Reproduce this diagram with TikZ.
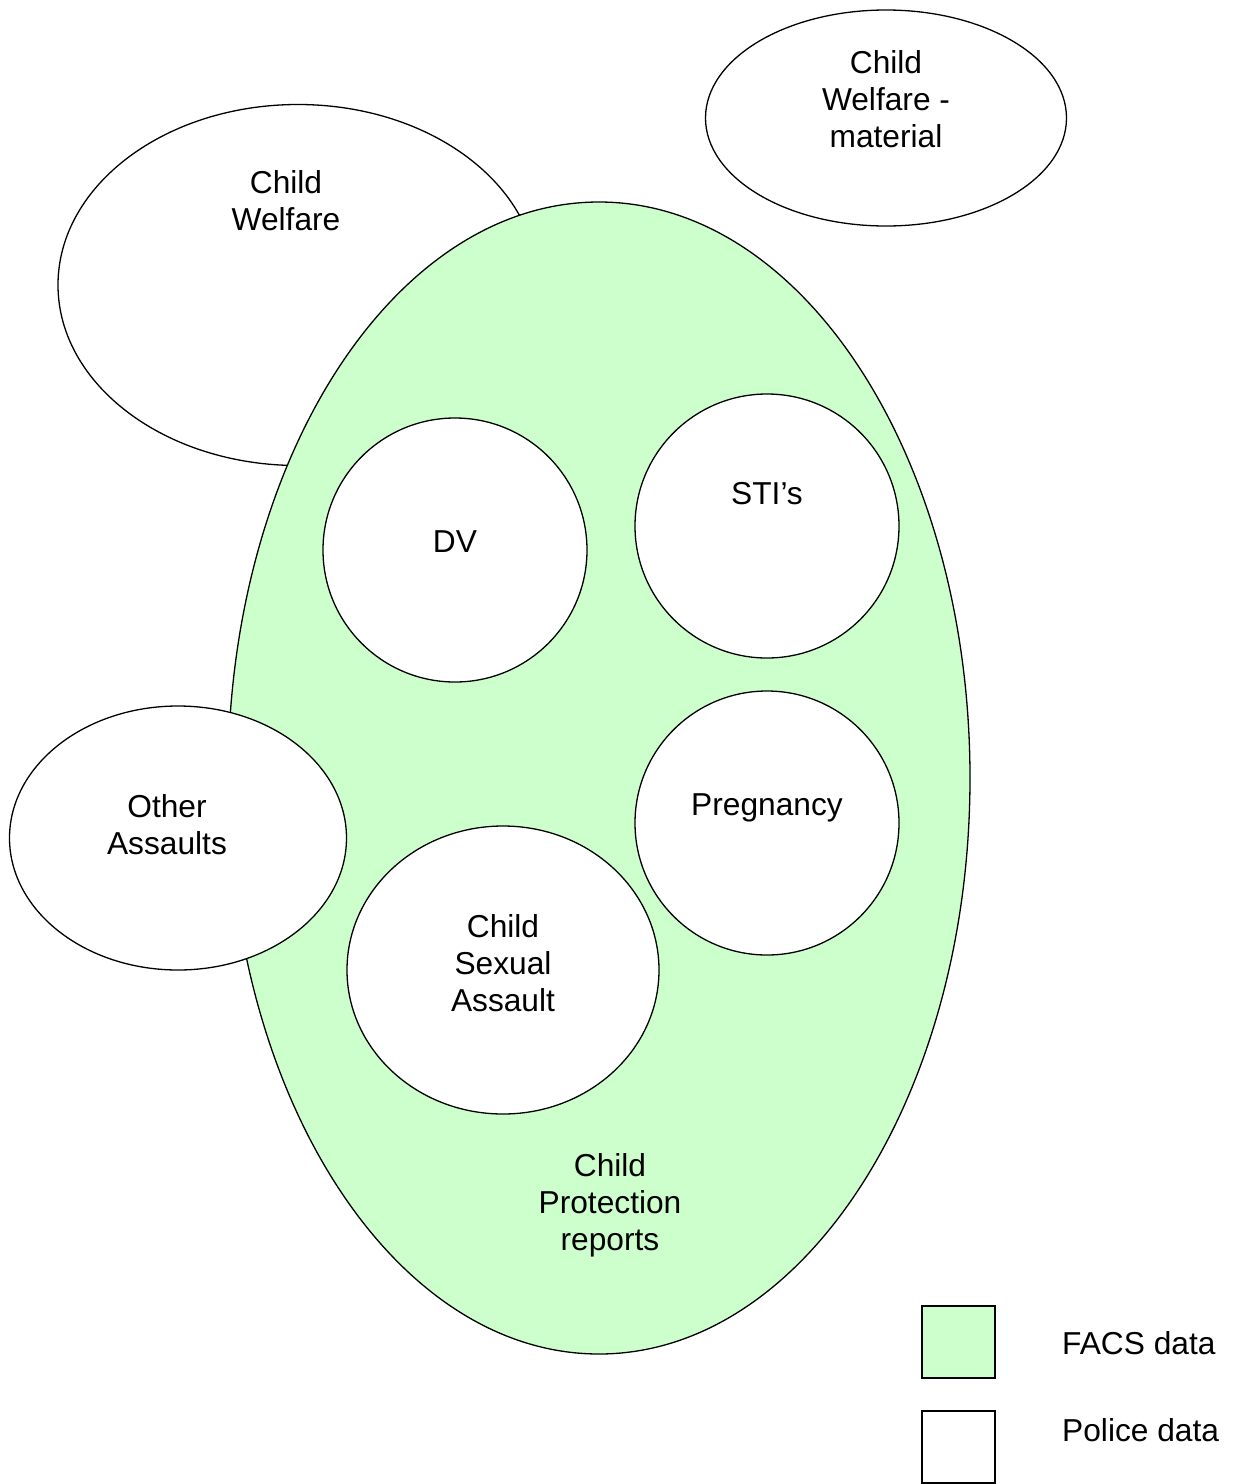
\documentclass[tikz,border=0pt]{standalone}
\usepackage{fontspec}
\setmainfont{Liberation Sans}
\usetikzlibrary{shapes.geometric}
\definecolor{facs}{HTML}{CCFFCC}
\begin{document}
\begin{tikzpicture}[x=1pt,y=-1pt,
  shp/.style={draw=black,line width=1.3pt,fill=white,ellipse,inner sep=0pt},
  txt/.style={align=center,font=\fontsize{31.7}{37}\selectfont,inner sep=0pt}]
\useasboundingbox (0,0) rectangle (1236,1484);
% Child Welfare (behind)
\node[shp,minimum width=480pt,minimum height=361pt] (cw) at (298,285) {};
% Child Welfare - material
\node[shp,minimum width=361pt,minimum height=216pt] (cwm) at (886,118) {};
% Child protection
\node[shp,fill=facs,minimum width=742pt,minimum height=1152pt] (cp) at (599,778) {};
% inner circles
\node[shp,minimum width=264pt,minimum height=264pt] (dv) at (455,550) {};
\node[shp,minimum width=264pt,minimum height=264pt] (sti) at (767,526) {};
\node[shp,minimum width=264pt,minimum height=264pt] (preg) at (767,823) {};
\node[shp,minimum width=312pt,minimum height=288pt] (csa) at (503,970) {};
\node[shp,minimum width=337pt,minimum height=264pt] (oa) at (178,838) {};
% legend
\node[draw=black,line width=1.3pt,fill=facs,minimum width=73pt,minimum height=72pt,inner sep=0pt] (lg1) at (958.5,1342) {};
\node[draw=black,line width=1.3pt,fill=white,minimum width=73pt,minimum height=72pt,inner sep=0pt] (lg2) at (958.5,1447) {};
% texts
\node[txt] (tcw) at (286,201) {Child\\Welfare};
\node[txt] (tcwm) at (886,99) {Child\\Welfare -\\material};
\node[txt] (tdv) at (455,542) {DV};
\node[txt] (tsti) at (767,494) {STI’s};
\node[txt] (tpreg) at (767,808) {Pregnancy};
\node[txt] (tcsa) at (503,963) {Child\\Sexual\\Assault};
\node[txt] (toa) at (167,825) {Other\\Assaults};
\node[txt] (tcp) at (610,1205) {Child\\Protection\\reports};
\node[txt,anchor=west] (tl1) at (1062,1343) {FACS data};
\node[txt,anchor=west] (tl2) at (1062,1430) {Police data};
\end{tikzpicture}
\end{document}
